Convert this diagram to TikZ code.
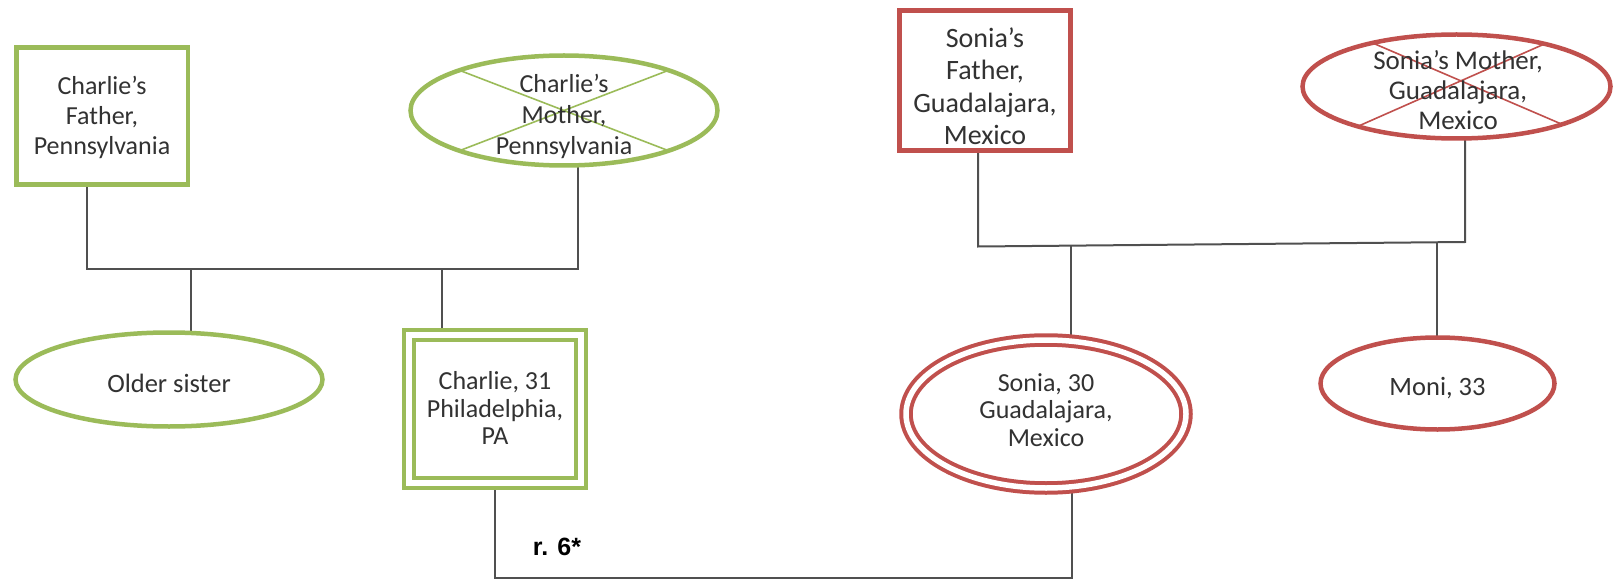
\documentclass[tikz,border=0pt]{standalone}
\usepackage{fontspec}
\setmainfont{Carlito}
\newfontfamily\relfont{Liberation Sans}
\usetikzlibrary{shapes.geometric,backgrounds}
\definecolor{kingreen}{RGB}{155,187,89}
\definecolor{kinred}{RGB}{192,80,77}
\definecolor{linkgray}{RGB}{80,80,80}
\definecolor{txtgray}{RGB}{50,50,50}

\begin{document}
\begin{tikzpicture}[x=1pt,y=-1pt,
  shapebase/.style={draw, fill=white, line width=4.5pt, inner sep=0pt, outer sep=0pt},
  box/.style={shapebase, rectangle},
  oval/.style={shapebase, ellipse},
  dbl/.style={line width=4pt, double=white, double distance=5.5pt},
  gr/.style={draw=kingreen},
  rd/.style={draw=kinred},
  cross/.style={line width=1.6pt},
  link/.style={draw=linkgray, line width=2pt},
  txt/.style={align=center, text=txtgray, inner sep=0pt},
  fs/.style={font=\fontsize{#1}{30}\selectfont},
]
\useasboundingbox (0,0) rectangle (1614,580);

% ---- shapes of Charlie's family ----
\node[box, gr, minimum width=171.5pt, minimum height=137pt] (cf) at (102.25,116) {};
\node[oval, gr, minimum width=307pt, minimum height=110pt] (cm) at (564,110.5) {};
\node[oval, gr, minimum width=307pt, minimum height=94pt] (os) at (169,379.5) {};
\node[box, gr, dbl, minimum width=172pt, minimum height=148pt] (ch) at (495,409) {};

% ---- shapes of Sonia's family ----
\node[box, rd, minimum width=171pt, minimum height=140pt] (sf) at (985,80.5) {};
\node[oval, rd, minimum width=308pt, minimum height=104pt] (sm) at (1456.5,86.5) {};
\node[oval, rd, dbl, minimum width=280pt, minimum height=148pt] (so) at (1046,414) {};
\node[oval, rd, minimum width=234pt, minimum height=92pt] (mo) at (1437.5,383.5) {};

% ---- deceased marks ----
\draw[kingreen, cross] ([shift={(-104,-40)}]cm.center) -- ([shift={(104,40)}]cm.center);
\draw[kingreen, cross] ([shift={(104,-40)}]cm.center) -- ([shift={(-104,40)}]cm.center);
\draw[kinred, cross] ([shift={(-85,-44)}]sm.center) -- ([shift={(106,38)}]sm.center);
\draw[kinred, cross] ([shift={(89,-43)}]sm.center) -- ([shift={(-99,40)}]sm.center);

% ---- texts ----
\node[txt, font=\fontsize{26}{30}\selectfont] (cft) at (102,117) {Charlie’s\\Father,\\Pennsylvania};
\node[txt, font=\fontsize{26}{31}\selectfont] (cmt) at (564,116) {Charlie’s\\Mother,\\Pennsylvania};
\node[txt, font=\fontsize{26.5}{30}\selectfont] (ost) at (169,383) {Older sister};
\node[txt, font=\fontsize{26}{27.5}\selectfont] (cht) at (495,408) {Charlie, 31\\Philadelphia,\\PA};
\node[txt, font=\fontsize{28}{32.5}\selectfont] (sft) at (985,86) {Sonia’s\\Father,\\Guadalajara,\\Mexico};
\node[txt, font=\fontsize{27}{30}\selectfont] (smt) at (1458,90) {Sonia’s Mother,\\Guadalajara,\\Mexico};
\node[txt, font=\fontsize{26}{27.5}\selectfont] (sot) at (1046,410) {Sonia, 30\\Guadalajara,\\Mexico};
\node[txt, font=\fontsize{26.5}{30}\selectfont] (mot) at (1437.5,388) {Moni, 33};
\node[txt, text=black, font=\relfont\bfseries\fontsize{25}{30}\selectfont] (rel) at (557,547) {r. 6*};

% ---- junction points ----
\coordinate (pl) at (87,269);
\coordinate (pr) at (578,269);
\coordinate (dos) at (191,269);
\coordinate (dch) at (442,269);
\coordinate (ql) at (978,246.5);
\coordinate (qr) at (1465,242);
\coordinate (dso) at (1070.5,245.2);
\coordinate (dmo) at (1437,242.8);
\coordinate (ml) at (495,578);
\coordinate (mr) at (1072,578);

% ---- connectors ----
\begin{scope}[on background layer]
  \draw[link] (cf.south -| pl) -- (pl) -- (pr) -- (cm.south -| pr);
  \draw[link] (dos) -- (os.north -| dos);
  \draw[link] (dch) -- (ch.north -| dch);
  \draw[link] (sf.south -| ql) -- (ql) -- (qr) -- (sm.south -| qr);
  \draw[link] (dso) -- (so.north -| dso);
  \draw[link] (dmo) -- (mo.north -| dmo);
  \draw[link] (ch.south) -- (ml) -- (mr) -- (so.south -| mr);
\end{scope}
\end{tikzpicture}
\end{document}
